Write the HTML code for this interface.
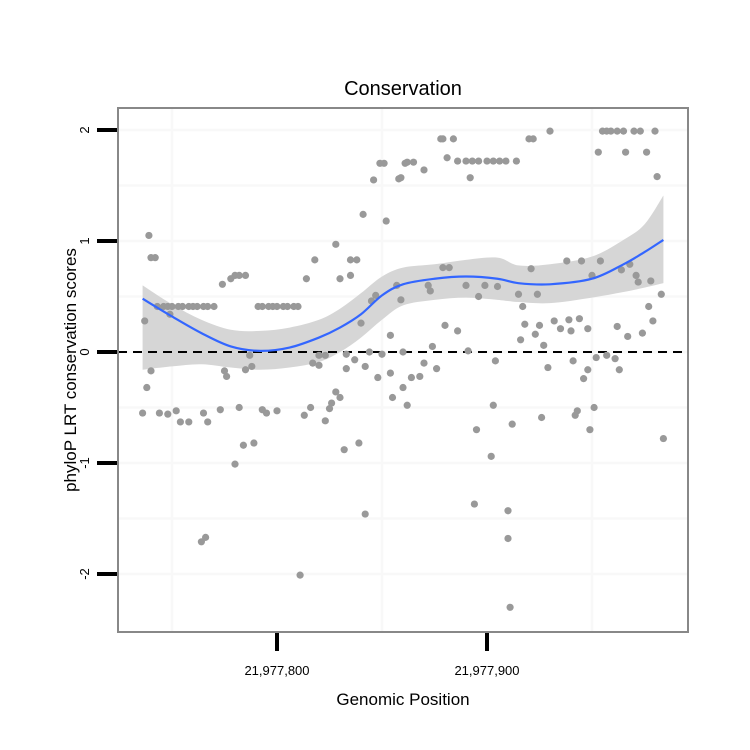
<!DOCTYPE html>
<html><head><meta charset="utf-8"><style>
html,body{margin:0;padding:0;background:#fff;}
svg{display:block;font-family:"Liberation Sans",sans-serif;}
</style></head><body>
<svg id="chart" width="750" height="750" viewBox="0 0 750 750">
<g id="grid"></g>
<g id="ribbon"></g>
<line x1="118" x2="688" y1="352" y2="352" stroke="#000" stroke-width="2" stroke-dasharray="9,6"/>
<g id="points"></g>
<g id="fit"></g>
<rect x="118" y="108" width="570" height="524" fill="none" stroke="#888" stroke-width="2"/>
<g id="axes"></g>
<text x="403" y="95" font-size="20" text-anchor="middle">Conservation</text>
<text x="403" y="705" font-size="17" text-anchor="middle">Genomic Position</text>
<text transform="translate(76,370) rotate(-90)" font-size="17" text-anchor="middle">phyloP LRT conservation scores</text>
</svg>
<script>
// positions are bp offsets from 21,977,700
const xTickValues=[100,200];
const xTickLabels=["21,977,800","21,977,900"];
const yTickValues=[2,1,0,-1,-2];
const yTickLabels=["2","1","0","-1","-2"];
const pointPos=[39,42,40,37,40,38,36,44,48,52,54,58,65,67,73,82,93,95,100,113,116,123,125,126,128,130,132,139,84,89,80,64,66,111,142,
43,46,48,50,53,55,58,60,62,65,67,70,91,93,96,98,100,103,105,108,110,49,
74,78,80,82,85,114,118,128,135,138,130,135,141,146,149,151,152,158,161,
75,76,85,88,87,117,120,120,123,133,137,133,142,144,150,148,154,160,155,162,160,140,154,145,147,157,159,
230,255,257,259,262,265,270,273,280,178,179,184,220,222,253,266,276,281,162,165,170,181,186,190,193,196,200,203,206,209,214,192,159,
179,182,172,173,190,199,205,196,215,221,224,217,238,245,254,250,264,268,271,272,278,283,277,279,274,267,262,
180,186,174,191,218,216,225,223,227,232,235,239,240,244,248,
170,176,164,168,204,229,241,248,246,252,257,261,263,
203,195,212,226,243,242,251,249,284,202,194,210,210,211];
const pointScore=[1.05,0.85,0.85,0.28,-0.17,-0.32,-0.55,-0.55,-0.56,-0.53,-0.63,-0.63,-0.55,-0.63,-0.52,-0.50,-0.52,-0.55,-0.53,-0.57,-0.50,-0.62,-0.51,-0.46,-0.36,-0.41,-0.88,-0.82,-0.84,-0.82,-1.01,-1.71,-1.67,-2.01,-1.46,
0.41,0.41,0.41,0.41,0.41,0.41,0.41,0.41,0.41,0.41,0.41,0.41,0.41,0.41,0.41,0.41,0.41,0.41,0.41,0.41,0.41,0.34,
0.61,0.66,0.69,0.69,0.69,0.66,0.83,0.97,0.83,0.83,0.66,0.69,1.24,1.55,1.70,1.70,1.18,1.56,1.70,
-0.17,-0.22,-0.16,-0.13,-0.03,-0.10,-0.03,-0.12,-0.03,-0.02,-0.07,-0.15,-0.13,0,-0.02,-0.23,-0.19,-0.32,-0.41,-0.48,0,0.26,0.15,0.46,0.51,0.60,0.47,
1.99,1.99,1.99,1.99,1.99,1.99,1.99,1.99,1.99,1.92,1.92,1.92,1.92,1.92,1.80,1.80,1.80,1.58,1.71,1.71,1.64,1.75,1.72,1.72,1.72,1.72,1.72,1.72,1.72,1.72,1.72,1.57,1.57,
0.76,0.76,0.60,0.55,0.60,0.60,0.59,0.50,0.52,0.75,0.52,0.41,0.82,0.82,0.82,0.69,0.74,0.79,0.69,0.63,0.64,0.52,0.41,0.28,0.17,0.14,0.23,
0.24,0.19,0.05,0.01,0.25,0.11,0.24,0.16,0.06,0.28,0.21,0.29,0.19,0.30,0.21,
-0.10,-0.15,-0.23,-0.22,-0.08,-0.14,-0.08,-0.16,-0.24,-0.05,-0.03,-0.06,-0.16,
-0.48,-0.70,-0.65,-0.59,-0.53,-0.57,-0.50,-0.70,-0.78,-0.94,-1.37,-1.43,-1.68,-2.30];
const fitPos=[36,50,64,78,92,106,120,130,140,150,160,175,190,205,215,230,250,265,275,284];
const fitScore=[0.48,0.32,0.17,0.05,0.01,0.04,0.13,0.22,0.34,0.51,0.61,0.66,0.68,0.66,0.62,0.61,0.66,0.79,0.90,1.01];
const fitUpper=[0.60,0.43,0.29,0.20,0.19,0.22,0.29,0.39,0.53,0.68,0.76,0.79,0.83,0.85,0.78,0.79,0.86,1.01,1.15,1.41];
const fitLower=[-0.16,-0.13,-0.11,-0.14,-0.16,-0.14,-0.09,0.00,0.13,0.29,0.42,0.47,0.49,0.47,0.45,0.44,0.49,0.54,0.58,0.62];

const NS='http://www.w3.org/2000/svg';
function xs(p){return 67+2.1*p;}
function ys(v){return 352-111*v;}
function mk(tag,attrs,parent){const e=document.createElementNS(NS,tag);for(const k in attrs)e.setAttribute(k,attrs[k]);parent.appendChild(e);return e;}
function smooth(P,move){
  let s=move?'M'+P[0][0]+','+P[0][1]:'L'+P[0][0]+','+P[0][1];
  for(let i=0;i<P.length-1;i++){
    const p0=P[Math.max(0,i-1)],p1=P[i],p2=P[i+1],p3=P[Math.min(P.length-1,i+2)];
    const c1=[p1[0]+(p2[0]-p0[0])/6,p1[1]+(p2[1]-p0[1])/6];
    const c2=[p2[0]-(p3[0]-p1[0])/6,p2[1]-(p3[1]-p1[1])/6];
    s+='C'+c1[0]+','+c1[1]+' '+c2[0]+','+c2[1]+' '+p2[0]+','+p2[1];
  }
  return s;
}

const grid=document.getElementById('grid');
[1.5,1,0.5,0,-0.5,-1,-1.5,2,-2].forEach(v=>{
  const l=mk('line',{x1:119,x2:687,y1:ys(v),y2:ys(v),stroke:'#f8f8f8','stroke-width':2.5},grid);
  
  
});
[50,150,250].forEach(p=>{
  const l=mk('line',{x1:xs(p),x2:xs(p),y1:109,y2:631,stroke:'#f8f8f8','stroke-width':2.5},grid);
  
  
});

const up=fitPos.map((p,i)=>[xs(p),ys(fitUpper[i])]);
const lo=fitPos.map((p,i)=>[xs(p),ys(fitLower[i])]).reverse();
const rib=mk('path',{d:smooth(up,true)+smooth(lo,false)+'Z',fill:'#d6d6d6'},document.getElementById('ribbon'));



const pts=document.getElementById('points');
pointPos.forEach((p,i)=>{
  const c=mk('circle',{cx:xs(p),cy:ys(pointScore[i]),r:3.6,fill:'#999'},pts);
  
  
});

const fp=fitPos.map((p,i)=>[xs(p),ys(fitScore[i])]);
const fl=mk('path',{d:smooth(fp,true),fill:'none',stroke:'#3366ff','stroke-width':2.2},document.getElementById('fit'));



const axes=document.getElementById('axes');
yTickValues.forEach((v,i)=>{
  const t=mk('line',{x1:97,x2:117,y1:ys(v),y2:ys(v),stroke:'#000','stroke-width':4},axes);
  
  
  const tx=mk('text',{transform:'translate(89,'+ys(v)+') rotate(-90)','font-size':13,'text-anchor':'middle'},axes);
  tx.textContent=yTickLabels[i];
  
  
});
xTickValues.forEach((p,i)=>{
  const t=mk('line',{x1:xs(p),x2:xs(p),y1:633,y2:651,stroke:'#000','stroke-width':4},axes);
  
  
  const tx=mk('text',{x:xs(p),y:675,'font-size':13,'text-anchor':'middle'},axes);
  tx.textContent=xTickLabels[i];
  
  
});
</script>
</body></html>
